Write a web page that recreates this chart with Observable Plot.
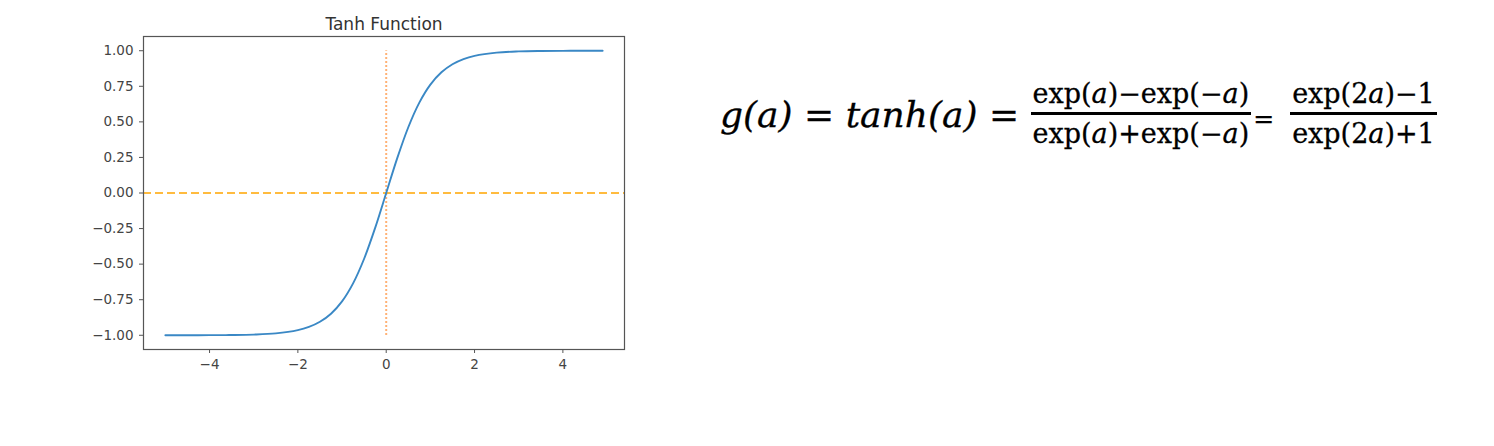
<!DOCTYPE html>
<html>
<head>
<meta charset="utf-8">
<script src="https://cdn.jsdelivr.net/npm/d3@7"></script>
<script src="https://cdn.jsdelivr.net/npm/@observablehq/plot@0.6"></script>
<style>
  html, body { margin: 0; padding: 0; background: #fff; }
  #wrap { position: relative; width: 1494px; height: 446px; overflow: hidden; }
  #chart { position: absolute; left: 0; top: 0; }
  #formula { position: absolute; left: 720px; top: 74px; height: 80px; display: flex; align-items: center;
    font-family: "DejaVu Serif", serif; color: #000; -webkit-text-stroke: 0.3px #000; }
  .lhs { font-style: italic; font-size: 36px; white-space: pre; }
  .frac { display: inline-flex; flex-direction: column; align-items: center; font-size: 27px; line-height: 1.12; }
  .frac .num { padding: 0 2px 3px 2px; border-bottom: 3px solid #000; }
  .frac .den { padding-top: 4px; }
  .eq2 { font-size: 25px; margin: 0 16px 0 2px; position: relative; top: 4px; }
  i { font-style: italic; }
</style>
</head>
<body>
<div id="wrap">
  <div id="chart"></div>
  <div id="formula">
    <span class="lhs">g(a) = tanh(a) = </span>
    <span class="frac"><span class="num">exp(<i>a</i>)−exp(−<i>a</i>)</span><span class="den">exp(<i>a</i>)+exp(−<i>a</i>)</span></span>
    <span class="eq2">=</span>
    <span class="frac"><span class="num">exp(2<i>a</i>)−1</span><span class="den">exp(2<i>a</i>)+1</span></span>
  </div>
</div>
<script>
// Values
const xs = [-5, -4.5, -4, -3.5, -3, -2.5, -2, -1.75, -1.5, -1.25, -1, -0.75, -0.5, -0.25, 0,
            0.25, 0.5, 0.75, 1, 1.25, 1.5, 1.75, 2, 2.5, 3, 3.5, 4, 4.5, 4.9];
const ys = [-0.9999, -0.9998, -0.9993, -0.9982, -0.9951, -0.9866, -0.964, -0.9414, -0.9051, -0.8483, -0.7616, -0.6351, -0.4621, -0.2449, 0,
            0.2449, 0.4621, 0.6351, 0.7616, 0.8483, 0.9051, 0.9414, 0.964, 0.9866, 0.9951, 0.9982, 0.9993, 0.9998, 0.9999];
const xTicks = [-4, -2, 0, 2, 4];
const yTicks = [-1, -0.75, -0.5, -0.25, 0, 0.25, 0.5, 0.75, 1];
const title = "Tanh Function";
const hLineY = [0];
const vLineX = [0];

const data = xs.map((x, i) => ({x, y: ys[i]}));
const minus = s => s.replace("-", "\u2212");

const chart = Plot.plot({
  width: 640,
  height: 446,
  marginLeft: 143,
  marginRight: 16,
  marginTop: 36,
  marginBottom: 97,
  style: {fontFamily: "'DejaVu Sans', sans-serif", fontSize: "13.5px", color: "#333", background: "#fff"},
  x: {domain: [-5.495, 5.395]},
  y: {domain: [-1.1, 1.1]},
  marks: [
    Plot.ruleY(hLineY, {stroke: "#ffa500", strokeWidth: 1.6, strokeDasharray: "8,4"}),
    Plot.ruleX(vLineX, {y1: -1, y2: 1, stroke: "#ff9848", strokeWidth: 2, strokeDasharray: "1.6,2.4"}),
    Plot.line(data, {x: "x", y: "y", stroke: "#3a88c5", strokeWidth: 1.9, curve: "catmull-rom"}),
    Plot.frame({stroke: "#555", strokeWidth: 1.2}),
    Plot.axisX({ticks: xTicks, tickSize: 4, tickPadding: 6, tickFormat: d => minus(String(d)), label: null, stroke: "#555", fill: "#444"}),
    Plot.axisY({ticks: yTicks, tickSize: 4, tickPadding: 6, tickFormat: d => minus(d.toFixed(2)), label: null, stroke: "#555", fill: "#444"}),
    Plot.text([title], {frameAnchor: "top", lineAnchor: "bottom", dy: -7, fontSize: 17, fill: "#333"})
  ]
});
document.getElementById("chart").appendChild(chart);
</script>
</body>
</html>
